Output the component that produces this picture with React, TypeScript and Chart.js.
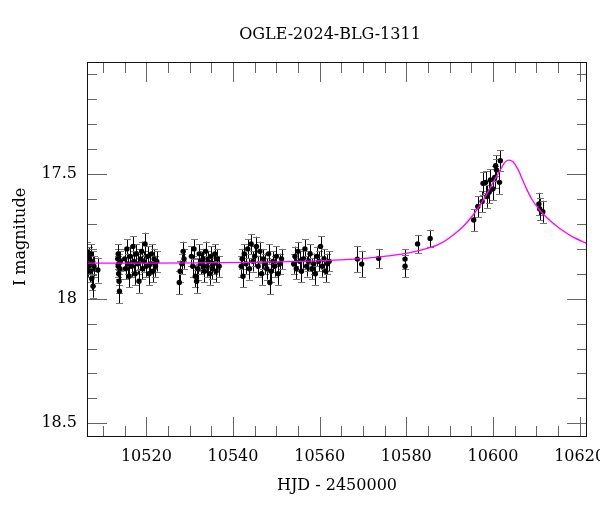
import React, { useEffect, useRef } from "react";
import { Chart, registerables } from "chart.js";

Chart.register(...registerables);

const TITLE = "OGLE-2024-BLG-1311";
const X_TITLE = "HJD - 2450000";
const Y_TITLE = "I magnitude";

// Photometry (HJD - 2450000, I mag, error)
const hjd = [
  10506.4, 10506.5, 10506.6, 10506.7, 10506.9, 10507.1, 10507.2, 10507.4, 10507.6, 10507.7, 10507.9, 10508.8,
  10513.4, 10513.5, 10513.5, 10513.6, 10513.6, 10513.7, 10513.8, 10513.9, 10514.0,
  10515.0, 10515.2, 10515.5, 10515.8, 10516.0, 10516.3, 10516.6, 10516.9, 10517.1, 10517.4, 10517.7, 10518.0, 10518.3, 10518.6,
  10518.9, 10519.1, 10519.4, 10519.7, 10520.0, 10520.3, 10520.6, 10520.9, 10521.2, 10521.5, 10521.8, 10522.1, 10522.4,
  10527.6, 10527.8, 10528.2, 10528.5, 10528.7, 10530.4, 10530.7, 10531.0, 10531.3, 10531.6, 10531.9, 10532.2, 10532.5, 10532.8,
  10533.1, 10533.4, 10533.7, 10534.0, 10534.3, 10534.6, 10534.9, 10535.2, 10535.5, 10535.8, 10536.1, 10536.4, 10536.8,
  10541.9, 10542.1, 10542.3, 10542.6, 10543.0, 10543.4, 10543.8, 10544.2, 10544.6, 10545.0, 10545.4, 10545.8, 10546.2,
  10546.6, 10547.0, 10547.4, 10547.8, 10548.2, 10548.5, 10548.8, 10549.2, 10549.6, 10550.0, 10550.4, 10550.8, 10551.2,
  10554.0, 10554.3, 10554.6, 10555.0, 10555.4, 10555.8, 10556.2, 10556.6, 10557.0, 10557.4, 10557.8,
  10558.2, 10558.6, 10559.0, 10559.4, 10559.8, 10560.2, 10560.6, 10561.0, 10561.4, 10561.8, 10562.2,
  10568.7, 10569.7, 10573.6, 10579.7, 10579.7, 10582.6, 10585.5,
  10595.55, 10596.5, 10597.5, 10597.7, 10598.3, 10598.6, 10599.1, 10599.4, 10600.0, 10600.4, 10600.6, 10600.8, 10601.5, 10601.7,
  10610.6, 10610.8, 10611.5,
];

const mag = [
  17.81, 17.84, 17.87, 17.83, 17.86, 17.89, 17.82, 17.92, 17.85, 17.95, 17.87, 17.885,
  17.84, 17.82, 17.87, 17.90, 17.86, 17.93, 17.97, 17.88, 17.85,
  17.84, 17.88, 17.80, 17.86, 17.91, 17.83, 17.87, 17.79, 17.85, 17.90, 17.82, 17.86, 17.93, 17.84,
  17.81, 17.88, 17.85, 17.78, 17.87, 17.83, 17.90, 17.86, 17.82, 17.89, 17.84, 17.87, 17.85,
  17.935, 17.89, 17.86, 17.81, 17.84, 17.83, 17.87, 17.80, 17.91, 17.93, 17.88, 17.82, 17.86, 17.85,
  17.84, 17.89, 17.81, 17.87, 17.85, 17.90, 17.83, 17.88, 17.86, 17.82, 17.89, 17.84, 17.87,
  17.87, 17.84, 17.91, 17.82, 17.86, 17.80, 17.88, 17.78, 17.85, 17.83, 17.79, 17.87, 17.81,
  17.90, 17.84, 17.86, 17.88, 17.82, 17.935, 17.89, 17.85, 17.87, 17.83, 17.90, 17.86, 17.84,
  17.86, 17.83, 17.88, 17.81, 17.85, 17.89, 17.84, 17.80, 17.87, 17.85, 17.82,
  17.88, 17.86, 17.90, 17.83, 17.85, 17.79, 17.87, 17.84, 17.89, 17.86, 17.85,
  17.841, 17.861, 17.838, 17.841, 17.87, 17.78, 17.758,
  17.684, 17.63, 17.61, 17.537, 17.533, 17.59, 17.573, 17.523, 17.559, 17.513, 17.466, 17.483, 17.533, 17.446,
  17.62, 17.64, 17.651,
];

const magErr = [
  0.038, 0.040, 0.042, 0.037, 0.040, 0.043, 0.038, 0.045, 0.040, 0.046, 0.041, 0.050,
  0.040, 0.039, 0.042, 0.044, 0.041, 0.046, 0.048, 0.042, 0.040,
  0.040, 0.042, 0.038, 0.041, 0.045, 0.039, 0.042, 0.040, 0.041, 0.044, 0.039, 0.041, 0.046, 0.040,
  0.039, 0.042, 0.041, 0.045, 0.042, 0.040, 0.044, 0.041, 0.039, 0.043, 0.040, 0.042, 0.041,
  0.046, 0.043, 0.041, 0.039, 0.040, 0.040, 0.042, 0.039, 0.045, 0.046, 0.043, 0.039, 0.041, 0.040,
  0.040, 0.043, 0.039, 0.042, 0.041, 0.044, 0.040, 0.042, 0.041, 0.039, 0.043, 0.040, 0.042,
  0.042, 0.040, 0.045, 0.039, 0.041, 0.038, 0.043, 0.040, 0.041, 0.040, 0.039, 0.042, 0.039,
  0.044, 0.040, 0.041, 0.043, 0.039, 0.047, 0.043, 0.041, 0.042, 0.040, 0.044, 0.041, 0.040,
  0.040, 0.039, 0.042, 0.038, 0.040, 0.043, 0.040, 0.038, 0.041, 0.040, 0.039,
  0.042, 0.041, 0.044, 0.039, 0.040, 0.040, 0.042, 0.040, 0.043, 0.041, 0.040,
  0.053, 0.053, 0.038, 0.040, 0.044, 0.036, 0.035,
  0.044, 0.042, 0.042, 0.045, 0.044, 0.045, 0.044, 0.043, 0.045, 0.044, 0.042, 0.043, 0.046, 0.043,
  0.045, 0.045, 0.044,
];

// Model light curve
const modelHjd = [
  10506.2, 10520.8, 10532.3, 10543.8, 10555.4, 10566.9, 10573.9, 10578.5, 10583.1, 10587.7,
  10591.2, 10593.5, 10595.8, 10598.1, 10600.0, 10601.6, 10602.7, 10603.6, 10604.6, 10605.8,
  10607.4, 10609.0, 10610.9, 10613.2, 10615.5, 10618.3, 10621.7,
];
const modelMag = [
  17.857, 17.857, 17.856, 17.854, 17.85, 17.842, 17.832, 17.822, 17.806, 17.78,
  17.739, 17.703, 17.655, 17.594, 17.534, 17.486, 17.454, 17.444, 17.45, 17.482,
  17.546, 17.602, 17.647, 17.687, 17.719, 17.751, 17.779,
];

const X_MIN = 10506.3;
const X_MAX = 10621.7;
const Y_MIN = 17.05;
const Y_MAX = 18.555;

const FONT = "'DejaVu Serif', 'Liberation Serif', serif";

const errorBarPlugin = {
  id: "errorBars",
  beforeDatasetsDraw(chart: any) {
    const { ctx, chartArea, scales } = chart;
    const xs = scales.x;
    const ys = scales.y;
    ctx.save();
    ctx.beginPath();
    ctx.rect(chartArea.left, chartArea.top, chartArea.right - chartArea.left, chartArea.bottom - chartArea.top);
    ctx.clip();
    ctx.lineWidth = 1;
    for (let i = 0; i < hjd.length; i++) {
      const px = Math.round(xs.getPixelForValue(hjd[i])) + 0.5;
      const yTop = ys.getPixelForValue(mag[i] - magErr[i]);
      const yBot = ys.getPixelForValue(mag[i] + magErr[i]);
      ctx.strokeStyle = "#000";
      ctx.beginPath();
      ctx.moveTo(px, yTop);
      ctx.lineTo(px, yBot);
      ctx.stroke();
      ctx.strokeStyle = "#777";
      ctx.beginPath();
      ctx.moveTo(px - 3.5, Math.round(yTop) + 0.5);
      ctx.lineTo(px + 3.5, Math.round(yTop) + 0.5);
      ctx.moveTo(px - 3.5, Math.round(yBot) + 0.5);
      ctx.lineTo(px + 3.5, Math.round(yBot) + 0.5);
      ctx.stroke();
    }
    ctx.restore();
  },
};

const framePlugin = {
  id: "frameTicks",
  afterDraw(chart: any) {
    const { ctx, chartArea, scales } = chart;
    const xs = scales.x;
    const ys = scales.y;
    const { left, right, top, bottom } = chartArea;
    ctx.save();
    ctx.lineWidth = 1;
    ctx.strokeStyle = "#666";
    ctx.beginPath();
    for (let v = Math.ceil(X_MIN / 5) * 5; v <= X_MAX; v += 5) {
      const px = Math.round(xs.getPixelForValue(v)) + 0.5;
      const len = v % 20 === 0 ? 20 : 11;
      ctx.moveTo(px, bottom);
      ctx.lineTo(px, bottom - len);
      ctx.moveTo(px, top);
      ctx.lineTo(px, top + len);
    }
    for (let k = Math.ceil(Y_MIN * 10); k <= Math.floor(Y_MAX * 10); k++) {
      const v = k / 10;
      const py = Math.round(ys.getPixelForValue(v)) + 0.5;
      const len = k % 5 === 0 ? 20 : 10;
      ctx.moveTo(left, py);
      ctx.lineTo(left + len, py);
      ctx.moveTo(right, py);
      ctx.lineTo(right - len, py);
    }
    ctx.stroke();
    ctx.strokeStyle = "#111";
    ctx.strokeRect(Math.round(left) + 0.5, Math.round(top) + 0.5, Math.round(right - left) - 1, Math.round(bottom - top) - 1);

    ctx.fillStyle = "#000";
    ctx.font = "16px " + FONT;
    ctx.textAlign = "center";
    ctx.textBaseline = "middle";
    ctx.fillText(TITLE, 330, 35);
    ctx.fillText(X_TITLE, (left + right) / 2, 486);
    ctx.translate(21, 237);
    ctx.rotate(-Math.PI / 2);
    ctx.fillText(Y_TITLE, 0, 0);
    ctx.restore();
  },
};

export default function App() {
  const canvasRef = useRef<HTMLCanvasElement | null>(null);

  useEffect(() => {
    const canvas = canvasRef.current;
    if (!canvas) return;
    const points = hjd.map((x, i) => ({ x, y: mag[i] }));
    const model = modelHjd.map((x, i) => ({ x, y: modelMag[i] }));
    const chart = new Chart(canvas, {
      type: "scatter",
      data: {
        datasets: [
          {
            type: "line",
            data: model,
            borderColor: "#ff00ff",
            borderWidth: 1.3,
            pointRadius: 0,
            fill: false,
            cubicInterpolationMode: "monotone",
          } as any,
          {
            type: "scatter",
            data: points,
            pointRadius: 2.7,
            pointBackgroundColor: "#000",
            pointBorderWidth: 0,
            borderWidth: 0,
          } as any,
        ],
      },
      options: {
        responsive: false,
        animation: false,
        devicePixelRatio: 1,
        layout: { padding: { top: 62, right: 13, left: 0, bottom: 0 } },
        plugins: {
          legend: { display: false },
          tooltip: { enabled: false },
          title: { display: false },
        },
        scales: {
          x: {
            type: "linear",
            position: "bottom",
            min: X_MIN,
            max: X_MAX,
            grid: { display: false, drawTicks: false },
            border: { display: false },
            ticks: {
              stepSize: 20,
              includeBounds: false,
              autoSkip: false,
              maxRotation: 0,
              padding: 10,
              color: "#000",
              font: { family: FONT, size: 16 },
              callback: (v: any) => String(Math.round(Number(v))),
            },
            afterFit: (s: any) => {
              s.height = 75;
              s.paddingLeft = 0;
              s.paddingRight = 0;
            },
          },
          y: {
            type: "linear",
            reverse: true,
            min: Y_MIN,
            max: Y_MAX,
            grid: { display: false, drawTicks: false },
            border: { display: false },
            ticks: {
              stepSize: 0.5,
              includeBounds: false,
              autoSkip: false,
              padding: 10,
              color: "#000",
              font: { family: FONT, size: 16 },
              callback: (v: any) => {
                const n = Number(v);
                if (Math.abs(n * 2 - Math.round(n * 2)) > 1e-6) return "";
                return String(Math.round(n * 10) / 10);
              },
            },
            afterFit: (s: any) => {
              s.width = 87;
              s.paddingTop = 0;
              s.paddingBottom = 0;
            },
          },
        },
      } as any,
      plugins: [errorBarPlugin, framePlugin],
    });
    return () => chart.destroy();
  }, []);

  return (
    <div style={{ position: "fixed", left: 0, top: 0, width: 600, height: 512, background: "#fff" }}>
      <canvas ref={canvasRef} width={600} height={512} style={{ width: 600, height: 512, display: "block" }} />
    </div>
  );
}
